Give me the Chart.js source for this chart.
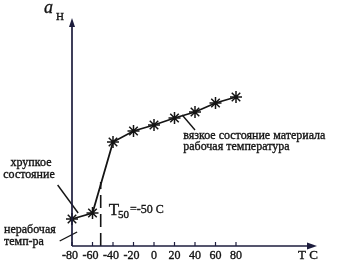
<!DOCTYPE html>
<html>
<head>
<meta charset="utf-8">
<script src="https://cdn.jsdelivr.net/npm/chart.js@4"></script>
<style>
  html, body { margin: 0; padding: 0; background: #fff; }
  canvas { display: block; }
</style>
</head>
<body>
<canvas id="chart" width="337" height="269"></canvas>
<script>
// температура, °C
const temps = [-80, -60, -40, -20, 0, 20, 40, 60, 80];
// ударная вязкость a_H (условные единицы)
const impact = [27, 33, 104, 115, 121, 128, 134, 143, 149];
// подписи оси X
const xTicks = [-80, -60, -40, -20, 0, 20, 40, 60, 80];
// порог хрупкости T50 (пунктир) и его высота
const t50X = [-52, -52];
const t50Y = [0, 64];
// выноски к подписям
const brittleLeadX = [-94, -74];
const brittleLeadY = [61, 33];
const idleLeadX = [-92, -75];
const idleLeadY = [5, 14];
const ductileLeadX = [27.5, 40];
const ductileLeadY = [131, 116];

const INK = '#141414';
const AXIS = '#1d1d3d';
const SERIF = '"Liberation Serif", "DejaVu Serif", serif';

const pts = (xs, ys) => xs.map((x, i) => ({ x: x, y: ys[i] }));

const leader = (xs, ys) => ({
  data: pts(xs, ys),
  borderColor: INK,
  borderWidth: 1.4,
  pointRadius: 0,
  clip: false
});

// текст чуть "жирнее", как на скане
function text(ctx, s, px, py) {
  ctx.fillText(s, px, py);
  ctx.strokeText(s, px, py);
}

// оси, стрелки, подписи — рисуем сами по шкалам Chart.js
const decor = {
  id: 'decor',
  afterDraw(chart) {
    const { ctx, scales: { x, y } } = chart;
    const x0 = x.getPixelForValue(-80);
    const y0 = y.getPixelForValue(0);
    const xEnd = x.right - 1;
    const yTop = y.top;

    ctx.save();
    ctx.strokeStyle = AXIS;
    ctx.fillStyle = AXIS;
    ctx.lineWidth = 1.7;

    // ось X
    ctx.beginPath();
    ctx.moveTo(x0, y0);
    ctx.lineTo(xEnd - 6, y0);
    ctx.stroke();
    ctx.beginPath();
    ctx.moveTo(xEnd, y0);
    ctx.lineTo(xEnd - 10, y0 - 3.5);
    ctx.lineTo(xEnd - 10, y0 + 3.5);
    ctx.closePath();
    ctx.fill();

    // ось Y
    ctx.beginPath();
    ctx.moveTo(x0, y0);
    ctx.lineTo(x0, yTop + 6);
    ctx.stroke();
    ctx.beginPath();
    ctx.moveTo(x0, yTop);
    ctx.lineTo(x0 - 3, yTop + 9);
    ctx.lineTo(x0 + 3, yTop + 9);
    ctx.closePath();
    ctx.fill();

    // засечки и подписи оси X
    ctx.lineWidth = 1.2;
    xTicks.forEach(t => {
      const px = x.getPixelForValue(t);
      ctx.beginPath();
      ctx.moveTo(px, y0);
      ctx.lineTo(px, y0 - 4);
      ctx.stroke();
    });

    ctx.fillStyle = INK;
    ctx.strokeStyle = INK;
    ctx.lineWidth = 0.35;
    ctx.font = '12px ' + SERIF;
    ctx.textBaseline = 'alphabetic';
    xTicks.forEach(t => {
      const px = x.getPixelForValue(t);
      const digits = String(Math.abs(t));
      ctx.textAlign = 'center';
      text(ctx, digits, px, y0 + 13);
      if (t < 0) {
        const w = ctx.measureText(digits).width;
        ctx.textAlign = 'right';
        text(ctx, '-', px - w / 2, y0 + 13);
      }
    });

    ctx.textAlign = 'left';
    ctx.font = '13px ' + SERIF;
    text(ctx, 'T C', xEnd - 19, y0 + 13);

    // обозначение оси Y
    ctx.font = 'italic 18px ' + SERIF;
    text(ctx, 'a', x0 - 28, yTop - 5);
    ctx.font = '11px ' + SERIF;
    text(ctx, 'Н', x0 - 16, yTop + 2);

    // T50
    const tx = x.getPixelForValue(-52) + 8;
    const ty = y.getPixelForValue(31);
    ctx.font = '17px ' + SERIF;
    text(ctx, 'T', tx, ty);
    let w = ctx.measureText('T').width;
    ctx.font = '11px ' + SERIF;
    text(ctx, '50', tx + w - 1, ty + 3);
    w += ctx.measureText('50').width;
    ctx.font = '12px ' + SERIF;
    text(ctx, '=-50 C', tx + w, ty - 2);

    // подписи состояний
    ctx.font = '12px ' + SERIF;
    ctx.textAlign = 'center';
    text(ctx, 'хрупкое', 31, y.getPixelForValue(80));
    text(ctx, 'состояние', 29, y.getPixelForValue(68));
    ctx.textAlign = 'left';
    text(ctx, 'нерабочая', 4, y.getPixelForValue(13));
    text(ctx, 'темп-ра', 4, y.getPixelForValue(1));

    const lx = x.getPixelForValue(28.5);
    text(ctx, 'вязкое состояние материала', lx, y.getPixelForValue(107));
    text(ctx, 'рабочая температура', lx, y.getPixelForValue(96));
    ctx.restore();
  }
};

new Chart(document.getElementById('chart'), {
  type: 'line',
  data: {
    datasets: [
      {
        data: pts(temps, impact),
        borderColor: INK,
        borderWidth: 1.8,
        tension: 0,
        pointStyle: 'star',
        pointRadius: 6,
        pointBorderWidth: 1.5,
        pointBorderColor: INK,
        pointBackgroundColor: INK,
        clip: false
      },
      {
        data: pts(t50X, t50Y),
        borderColor: INK,
        borderWidth: 1.6,
        borderDash: [13, 6],
        pointRadius: 0,
        clip: false
      },
      leader(brittleLeadX, brittleLeadY),
      leader(idleLeadX, idleLeadY),
      leader(ductileLeadX, ductileLeadY)
    ]
  },
  options: {
    responsive: false,
    animation: false,
    devicePixelRatio: 1,
    layout: { padding: { left: 72, right: 19, top: 18, bottom: 23 } },
    scales: {
      x: { type: 'linear', min: -80, max: 160, display: false },
      y: { type: 'linear', min: 0, max: 228, display: false }
    },
    plugins: {
      legend: { display: false },
      tooltip: { enabled: false }
    }
  },
  plugins: [decor]
});
</script>
</body>
</html>
